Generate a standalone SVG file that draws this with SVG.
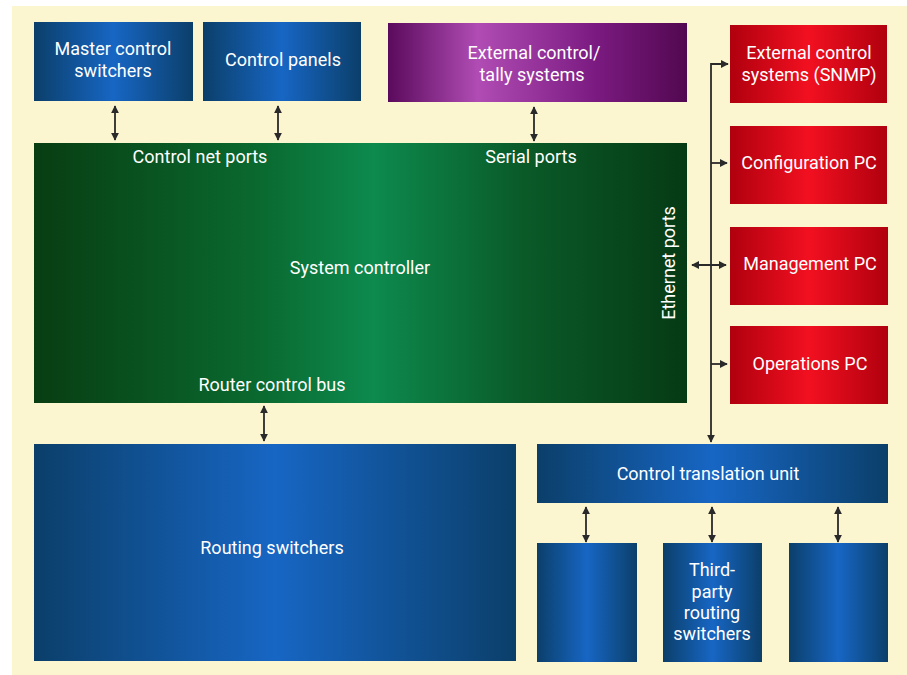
<svg xmlns="http://www.w3.org/2000/svg" width="907" height="675" viewBox="0 0 907 675">
<defs>
<linearGradient id="gBlue" x1="0" y1="0" x2="1" y2="0">
<stop offset="0" stop-color="#0b3f6a"/><stop offset="0.5" stop-color="#1766c4"/><stop offset="1" stop-color="#0b3f6a"/>
</linearGradient>
<linearGradient id="gGreen" x1="0" y1="0" x2="1" y2="0">
<stop offset="0" stop-color="#083d12"/><stop offset="0.35" stop-color="#0a6a30"/><stop offset="0.52" stop-color="#0d8a4e"/><stop offset="0.75" stop-color="#0a5a28"/><stop offset="1" stop-color="#063a14"/>
</linearGradient>
<linearGradient id="gPurple" x1="0" y1="0" x2="1" y2="0">
<stop offset="0" stop-color="#5a0a5c"/><stop offset="0.3" stop-color="#b04cb4"/><stop offset="0.7" stop-color="#7a1a80"/><stop offset="1" stop-color="#520850"/>
</linearGradient>
<linearGradient id="gRed" x1="0" y1="0" x2="1" y2="0">
<stop offset="0" stop-color="#b0000e"/><stop offset="0.5" stop-color="#f21020"/><stop offset="1" stop-color="#b0000e"/>
</linearGradient>
<marker id="ah" viewBox="0 0 10 10" refX="9" refY="5" markerWidth="8" markerHeight="8" orient="auto-start-reverse" markerUnits="userSpaceOnUse">
<path d="M0,0 L10,5 L0,10 z" fill="#2a2a2a"/>
</marker>
<style>
text{font-family:"Liberation Sans Narrow","Roboto","Liberation Sans",sans-serif;font-size:18px;fill:#ffffff;text-anchor:middle}
.c{stroke:#2a2a2a;stroke-width:1.8;fill:none}
</style>
</defs>
<rect x="0" y="0" width="907" height="675" fill="#ffffff"/>
<rect x="12" y="6" width="895" height="669" fill="#fcf6d0"/>

<g id="master"><rect x="34" y="22" width="159" height="79" fill="url(#gBlue)"/><text x="113" y="55">Master control</text><text x="113" y="77">switchers</text></g>
<g id="panels"><rect x="203" y="22" width="158" height="79" fill="url(#gBlue)"/><text x="283" y="66">Control panels</text></g>
<g id="tally"><rect x="388" y="23" width="299" height="79" fill="url(#gPurple)"/><text x="534" y="59">External control/</text><text x="532" y="81">tally systems</text></g>
<g id="snmp"><rect x="730" y="25" width="157" height="78" fill="url(#gRed)"/><text x="809" y="59">External control</text><text x="809" y="81">systems (SNMP)</text></g>
<g id="config"><rect x="730" y="126" width="157" height="78" fill="url(#gRed)"/><text x="809" y="169">Configuration PC</text></g>
<g id="mgmt"><rect x="730" y="227" width="158" height="78" fill="url(#gRed)"/><text x="810" y="270">Management PC</text></g>
<g id="ops"><rect x="730" y="326" width="158" height="78" fill="url(#gRed)"/><text x="810" y="370">Operations PC</text></g>
<g id="controller"><rect x="34" y="143" width="653" height="260" fill="url(#gGreen)"/>
<text x="200" y="163">Control net ports</text><text x="531" y="163">Serial ports</text>
<text x="360" y="274">System controller</text><text x="272" y="391">Router control bus</text>
<text transform="translate(675,263) rotate(-90)">Ethernet ports</text></g>
<g id="routing"><rect x="34" y="444" width="482" height="217" fill="url(#gBlue)"/><text x="272" y="554">Routing switchers</text></g>
<g id="ctu"><rect x="537" y="444" width="351" height="59" fill="url(#gBlue)"/><text x="708" y="480">Control translation unit</text></g>
<g id="tp1"><rect x="537" y="543" width="100" height="119" fill="url(#gBlue)"/></g>
<g id="tp2"><rect x="663" y="543" width="99" height="119" fill="url(#gBlue)"/><text x="712" y="576">Third-</text><text x="712" y="598">party</text><text x="712" y="619">routing</text><text x="712" y="640">switchers</text></g>
<g id="tp3"><rect x="789" y="543" width="99" height="119" fill="url(#gBlue)"/></g>

<g id="connectors">
<line class="c" x1="115" y1="106" x2="115" y2="140" marker-start="url(#ah)" marker-end="url(#ah)"/>
<line class="c" x1="278" y1="106" x2="278" y2="140" marker-start="url(#ah)" marker-end="url(#ah)"/>
<line class="c" x1="534" y1="107" x2="534" y2="141" marker-start="url(#ah)" marker-end="url(#ah)"/>
<line class="c" x1="264" y1="406" x2="264" y2="441" marker-start="url(#ah)" marker-end="url(#ah)"/>
<line class="c" x1="586" y1="507" x2="586" y2="542" marker-start="url(#ah)" marker-end="url(#ah)"/>
<line class="c" x1="712" y1="507" x2="712" y2="542" marker-start="url(#ah)" marker-end="url(#ah)"/>
<line class="c" x1="838" y1="507" x2="838" y2="542" marker-start="url(#ah)" marker-end="url(#ah)"/>
<path class="c" d="M728,64 H711 V442" marker-end="url(#ah)"/>
<line class="c" x1="711" y1="64" x2="728" y2="64" marker-end="url(#ah)"/>
<line class="c" x1="711" y1="163" x2="727" y2="163" marker-end="url(#ah)"/>
<line class="c" x1="692" y1="265" x2="726" y2="265" marker-start="url(#ah)" marker-end="url(#ah)"/>
<line class="c" x1="711" y1="364" x2="727" y2="364" marker-end="url(#ah)"/>
</g>
</svg>
